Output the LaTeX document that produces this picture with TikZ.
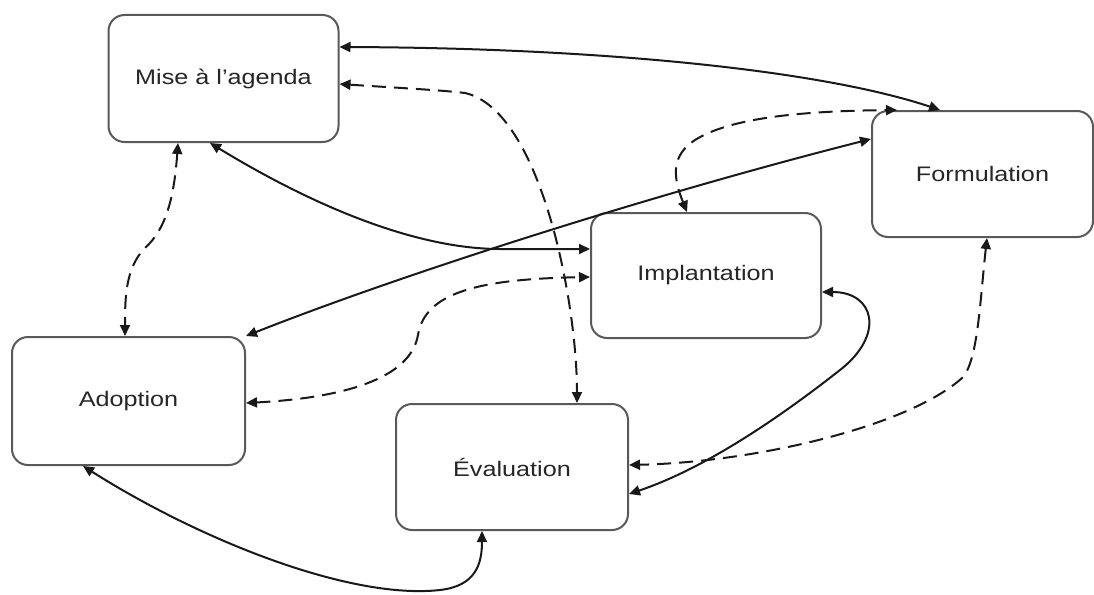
\documentclass[tikz,border=0pt]{standalone}
\usepackage{fontspec}
\setmainfont{Liberation Sans}[FakeStretch=1.2]
\usetikzlibrary{arrows.meta}
\begin{document}
\begin{tikzpicture}[x=1pt,y=-1pt,
  stage/.style={draw=black!65, line width=2pt, rounded corners=16pt,
    fill=white, text=black!85, font=\fontsize{21}{25}\selectfont,
    inner sep=0pt},
  link/.style={line width=2pt, draw=black!90,
    {Triangle[length=11pt,width=10pt]}-{Triangle[length=11pt,width=10pt]}},
  dlink/.style={link, dash pattern=on 14pt off 8pt}]
\useasboundingbox (0,0) rectangle (1094,594);

% policy cycle stages
\node[stage, minimum width=230pt, minimum height=127pt] (mise) at (223.5,78.5) {Mise à l'agenda};
\node[stage, minimum width=221pt, minimum height=126pt] (form) at (982.5,174) {Formulation};
\node[stage, minimum width=230pt, minimum height=125pt] (impl) at (706,275.5) {Implantation};
\node[stage, minimum width=233pt, minimum height=128pt] (adop) at (128.5,401) {Adoption};
\node[stage, minimum width=232pt, minimum height=126pt] (eval) at (512,467) {Évaluation};

% solid links
\draw[link] (mise.east |- 0,47) .. controls (600,48) and (820,70) .. (form.north -| 940,0);
\draw[link] (mise.south -| 210,0) .. controls (320,210) and (420,249) .. (500,249) -- (impl.west |- 0,249);
\draw[link] (adop.north east) .. controls (400,275) and (650,195) .. (form.west |- 0,139);
\draw[link] (impl.east |- 0,292) .. controls (875,292) and (885,335) .. (840,370)
  .. controls (770,425) and (700,470) .. (eval.east |- 0,494);
\draw[link] (adop.south -| 83,0) .. controls (200,540) and (350,600) .. (440,590)
  .. controls (475,586) and (482,565) .. (eval.south -| 482,0);

% dashed links
\draw[dlink] (mise.east |- 0,84) .. controls (400,88) and (440,90) .. (465,93)
  .. controls (540,110) and (577,300) .. (eval.north -| 577,0);
\draw[dlink] (mise.south -| 178,0) .. controls (174,200) and (165,230) .. (145,248)
  .. controls (125,268) and (125,300) .. (adop.north -| 125,0);
\draw[dlink] (adop.east |- 0,403) .. controls (340,398) and (410,380) .. (418,335)
  .. controls (425,292) and (480,279) .. (impl.west |- 0,277);
\draw[dlink] (impl.north -| 687,0) .. controls (672,175) and (672,155) .. (695,140)
  .. controls (730,118) and (800,111) .. (form.north -| 897,0);
\draw[dlink] (form.south -| 987,0) .. controls (980,300) and (978,362) .. (962,378)
  .. controls (910,425) and (760,462) .. (eval.east |- 0,465);
\end{tikzpicture}
\end{document}
